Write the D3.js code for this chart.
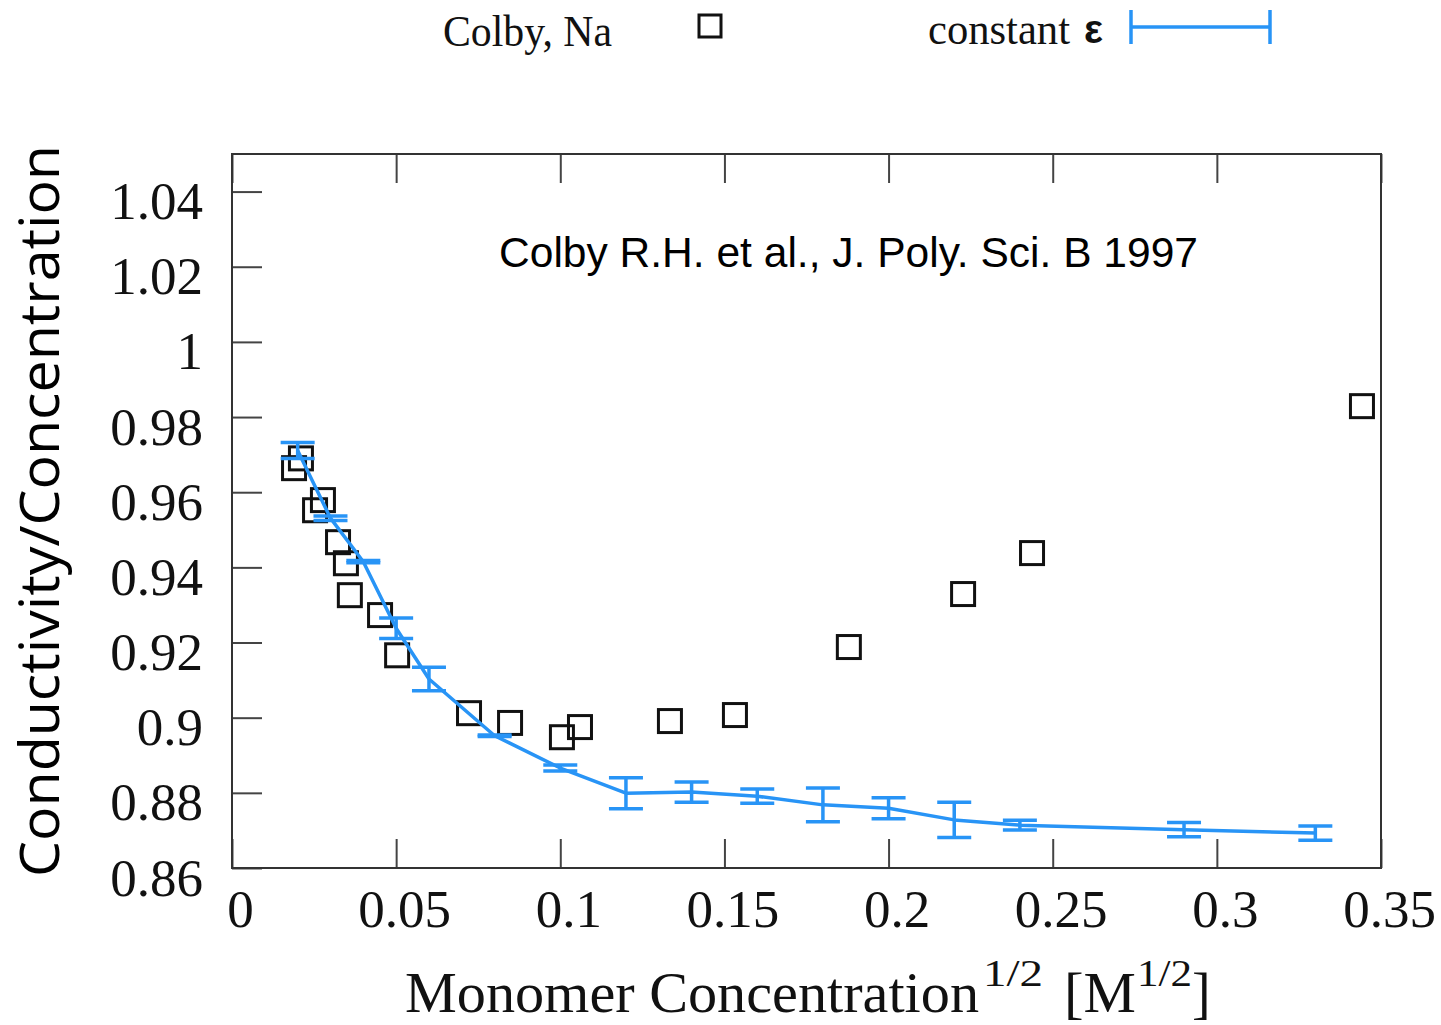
<!DOCTYPE html>
<html>
<head>
<meta charset="utf-8">
<script src="https://cdn.jsdelivr.net/npm/d3@7/dist/d3.min.js"></script>
<style>
  html, body { margin: 0; padding: 0; background: #fff; }
  svg { display: block; }
</style>
</head>
<body>
<svg id="chart" width="1441" height="1025"></svg>
<script>
// Measured conductivity / concentration (Colby et al., Na counterions)
const colbyX = [0.0189, 0.0210, 0.0253, 0.0277, 0.0323, 0.0347, 0.0359, 0.0451, 0.0503,
                0.0722, 0.0847, 0.1005, 0.1060, 0.1334, 0.1532, 0.1879, 0.2227, 0.2437, 0.3442];
const colbyY = [0.9664, 0.9690, 0.9552, 0.9579, 0.9467, 0.9411, 0.9326, 0.9273, 0.9166,
                0.9012, 0.8986, 0.8948, 0.8975, 0.8991, 0.9007, 0.9188, 0.9329, 0.9438, 0.9829];

// Simulation with constant dielectric permittivity: mean and error
const simX   = [0.02, 0.03, 0.04, 0.05, 0.06, 0.08, 0.10, 0.12, 0.14, 0.16, 0.18, 0.20, 0.22, 0.24, 0.29, 0.33];
const simY   = [0.9711, 0.9531, 0.9415, 0.9238, 0.9103, 0.8952, 0.8866, 0.8799, 0.8802, 0.8791,
                0.8768, 0.8759, 0.8728, 0.8714, 0.8702, 0.8693];
const simErr = [0.0021, 0.0006, 0.0003, 0.0027, 0.0031, 0.0002, 0.0008, 0.0041, 0.0027, 0.0019,
                0.0045, 0.0028, 0.0047, 0.0013, 0.0019, 0.0019];

// Axis ticks and their labels
const xTicks = [0, 0.05, 0.1, 0.15, 0.2, 0.25, 0.3, 0.35];
const xTickLabels = ["0", "0.05", "0.1", "0.15", "0.2", "0.25", "0.3", "0.35"];
const yTicks = [0.86, 0.88, 0.90, 0.92, 0.94, 0.96, 0.98, 1.00, 1.02, 1.04];
const yTickLabels = ["0.86", "0.88", "0.9", "0.92", "0.94", "0.96", "0.98", "1", "1.02", "1.04"];

const seriesNames = ["Colby, Na", "constant"];

const blue = "#2894f6";
const serif = "'Liberation Serif', 'DejaVu Serif', serif";
const sans = "'Liberation Sans', Arial, sans-serif";

const svg = d3.select("#chart");
const plot = { left: 232, right: 1381, top: 154, bottom: 868 };

const x = d3.scaleLinear().domain([0, 0.35]).range([plot.left, plot.right]);
const y = d3.scaleLinear().domain([0.86, 1.05]).range([plot.bottom, plot.top]);

// Left axis: inward ticks, labels on the outside
const yAxis = d3.axisLeft(y)
  .tickValues(yTicks)
  .tickSize(-30)
  .tickPadding(29)
  .tickFormat((d, i) => yTickLabels[i]);
const gy = svg.append("g").attr("transform", `translate(${plot.left},0)`).call(yAxis);
gy.select(".domain").remove();
gy.selectAll(".tick line").attr("stroke", "#444").attr("stroke-width", 2);
gy.selectAll(".tick text")
  .attr("dy", null).attr("y", 27)
  .attr("font-family", serif).attr("font-size", 53).attr("fill", "#111");

// Bottom axis
const xAxis = d3.axisBottom(x)
  .tickValues(xTicks)
  .tickSize(-29)
  .tickPadding(21)
  .tickFormat((d, i) => xTickLabels[i]);
const gx = svg.append("g").attr("transform", `translate(0,${plot.bottom})`).call(xAxis);
gx.select(".domain").remove();
gx.selectAll(".tick line").attr("stroke", "#444").attr("stroke-width", 2);
gx.selectAll(".tick text")
  .attr("x", 8)
  .attr("font-family", serif).attr("font-size", 53).attr("fill", "#111");

// Top axis: mirrored ticks only
const xTop = d3.axisTop(x).tickValues(xTicks).tickSize(-29).tickFormat("");
const gt = svg.append("g").attr("transform", `translate(0,${plot.top})`).call(xTop);
gt.select(".domain").remove();
gt.selectAll(".tick line").attr("stroke", "#444").attr("stroke-width", 2);

// Plot frame
svg.append("rect")
  .attr("x", plot.left).attr("y", plot.top)
  .attr("width", plot.right - plot.left).attr("height", plot.bottom - plot.top)
  .attr("fill", "none").attr("stroke", "#333").attr("stroke-width", 2);

// Experimental points as open squares
const sq = 23;
svg.append("g").selectAll("rect")
  .data(colbyX.map((v, i) => [v, colbyY[i]]))
  .join("rect")
  .attr("x", d => x(d[0]) - sq / 2)
  .attr("y", d => y(d[1]) - sq / 2)
  .attr("width", sq).attr("height", sq)
  .attr("fill", "none").attr("stroke", "#111").attr("stroke-width", 3);

// Simulation curve
const sim = simX.map((v, i) => ({ x: v, y: simY[i], e: simErr[i] }));
svg.append("path")
  .datum(sim)
  .attr("d", d3.line().x(d => x(d.x)).y(d => y(d.y)))
  .attr("fill", "none").attr("stroke", blue).attr("stroke-width", 3.5)
  .attr("stroke-linejoin", "round");

// Error bars with caps
const cap = 17;
const eb = svg.append("g").attr("stroke", blue).attr("stroke-width", 3.5).attr("fill", "none");
eb.selectAll(".bar").data(sim).join("line").attr("class", "bar")
  .attr("x1", d => x(d.x)).attr("x2", d => x(d.x))
  .attr("y1", d => y(d.y - d.e)).attr("y2", d => y(d.y + d.e));
eb.selectAll(".capTop").data(sim).join("line").attr("class", "capTop")
  .attr("x1", d => x(d.x) - cap).attr("x2", d => x(d.x) + cap)
  .attr("y1", d => y(d.y + d.e)).attr("y2", d => y(d.y + d.e));
eb.selectAll(".capBot").data(sim).join("line").attr("class", "capBot")
  .attr("x1", d => x(d.x) - cap).attr("x2", d => x(d.x) + cap)
  .attr("y1", d => y(d.y - d.e)).attr("y2", d => y(d.y - d.e));

// Source annotation
svg.append("text")
  .attr("x", 499).attr("y", 267)
  .attr("font-family", sans).attr("font-size", 42)
  .attr("textLength", 699).attr("lengthAdjust", "spacingAndGlyphs")
  .attr("fill", "#000")
  .text("Colby R.H. et al., J. Poly. Sci. B 1997");

// Legend
const lg = svg.append("g");
lg.append("text")
  .attr("x", 443).attr("y", 46)
  .attr("font-family", serif).attr("font-size", 44).attr("fill", "#111")
  .attr("textLength", 169).attr("lengthAdjust", "spacingAndGlyphs")
  .text(seriesNames[0]);
lg.append("rect")
  .attr("x", 699).attr("y", 15).attr("width", 22).attr("height", 22)
  .attr("fill", "none").attr("stroke", "#111").attr("stroke-width", 3);
lg.append("text")
  .attr("x", 928).attr("y", 44)
  .attr("font-family", serif).attr("font-size", 44).attr("fill", "#111")
  .attr("textLength", 142).attr("lengthAdjust", "spacingAndGlyphs")
  .text(seriesNames[1]);
lg.append("text")
  .attr("x", 1084).attr("y", 43)
  .attr("font-family", sans).attr("font-weight", "bold").attr("font-size", 40).attr("fill", "#111")
  .text("\u03b5");
const lgl = lg.append("g").attr("stroke", blue).attr("stroke-width", 3.5);
lgl.append("line").attr("x1", 1131).attr("x2", 1270).attr("y1", 27).attr("y2", 27);
lgl.append("line").attr("x1", 1131).attr("x2", 1131).attr("y1", 10).attr("y2", 44);
lgl.append("line").attr("x1", 1270).attr("x2", 1270).attr("y1", 10).attr("y2", 44);

// Axis titles
const xt = svg.append("text")
  .attr("y", 1012)
  .attr("font-family", serif).attr("font-size", 56).attr("fill", "#111");
const fit = sel => sel.attr("lengthAdjust", "spacingAndGlyphs");
xt.append("tspan").attr("x", 405).attr("textLength", 574).call(fit).text("Monomer Concentration");
xt.append("tspan").attr("x", 983).attr("font-size", 38).attr("dy", -26).attr("textLength", 60).call(fit).text("1/2");
xt.append("tspan").attr("x", 1064).attr("dy", 26).attr("textLength", 72).call(fit).text("[M");
xt.append("tspan").attr("x", 1137).attr("font-size", 38).attr("dy", -26).attr("textLength", 55).call(fit).text("1/2");
xt.append("tspan").attr("x", 1192).attr("dy", 26).text("]");

svg.append("text")
  .attr("transform", "translate(59,877) rotate(-90)")
  .attr("font-family", "'Open Sans', 'Noto Sans', sans-serif").attr("font-size", 55)
  .attr("textLength", 732).attr("lengthAdjust", "spacingAndGlyphs")
  .attr("fill", "#000")
  .text("Conductivity/Concentration");
</script>
</body>
</html>
